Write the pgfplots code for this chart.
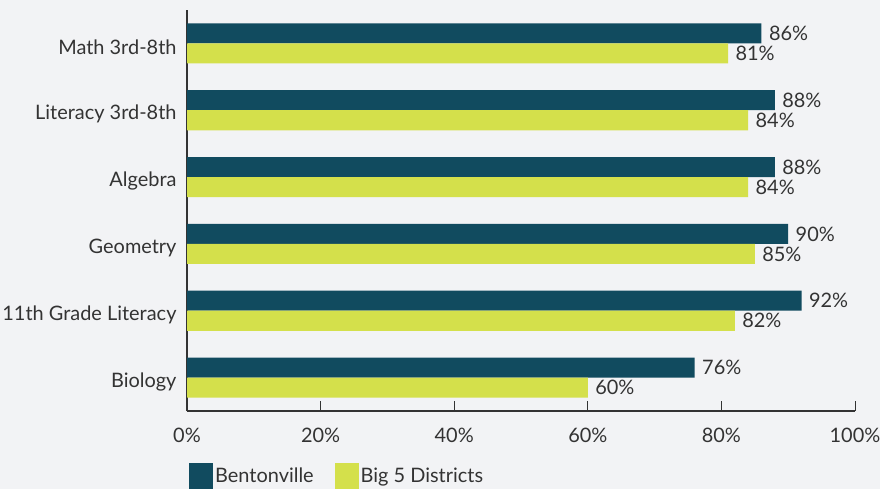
\documentclass[border=0pt]{standalone}
\usepackage{pgfplots}
\pgfplotsset{compat=1.18}
\usepackage{fontspec}
\setmainfont{Lato}
\definecolor{bg}{HTML}{F2F3F5}
\definecolor{dark}{HTML}{114B5F}
\definecolor{lime}{HTML}{D4E04B}
\definecolor{txt}{HTML}{333333}
\begin{document}
\begin{tikzpicture}[font=\fontsize{20}{23}\selectfont]
\fill[bg] (0,0) rectangle (880bp,489bp);
\begin{axis}[
  at={(187bp,78bp)}, anchor=south west,
  width=668bp, height=401bp, scale only axis,
  xbar, bar width=0.3,
  xmin=0, xmax=100, ymin=-0.5, ymax=5.5,
  axis x line*=bottom, axis y line*=left,
  axis line style={txt, line width=1.3pt, -},
  xtick={0,20,40,60,80,100},
  xticklabels={0\%,20\%,40\%,60\%,80\%,100\%},
  ytick={0,1,2,3,4,5},
  yticklabels={Biology,11th Grade Literacy,Geometry,Algebra,Literacy 3rd-8th,Math 3rd-8th},
  y tick style={draw=none},
  x tick style={txt, line width=1pt},
  major tick length=10bp, xtick align=inside,
  xticklabel style={yshift=-14bp, text=txt},
  yticklabel style={xshift=3bp, yshift=-4bp, text=txt},
  /pgf/number format/assume math mode=true,
  nodes near coords={\pgfmathprintnumber{\pgfplotspointmeta}\%},
  every node near coord/.append style={text=txt, anchor=west, xshift=4bp},
  legend style={at={(0,0)}, anchor=north west, yshift=-52bp, xshift=2bp,
    draw=none, fill=none, inner sep=0pt, text=txt,
    /tikz/every even column/.append style={column sep=19bp}},
  legend columns=2,
]
\addplot[fill=dark, draw=none, bar shift=0.15,
  legend image code/.code={\fill[dark] (0bp,-13bp) rectangle (24bp,13bp);}]
  coordinates {(76,0) (92,1) (90,2) (88,3) (88,4) (86,5)};
\addplot[fill=lime, draw=none, bar shift=-0.15,
  legend image code/.code={\fill[lime] (0bp,-13bp) rectangle (24bp,13bp);}]
  coordinates {(60,0) (82,1) (85,2) (84,3) (84,4) (81,5)};
\legend{Bentonville, Big 5 Districts}
\end{axis}
\pgfresetboundingbox
\useasboundingbox (0,0) rectangle (880bp,489bp);
\end{tikzpicture}
\end{document}
